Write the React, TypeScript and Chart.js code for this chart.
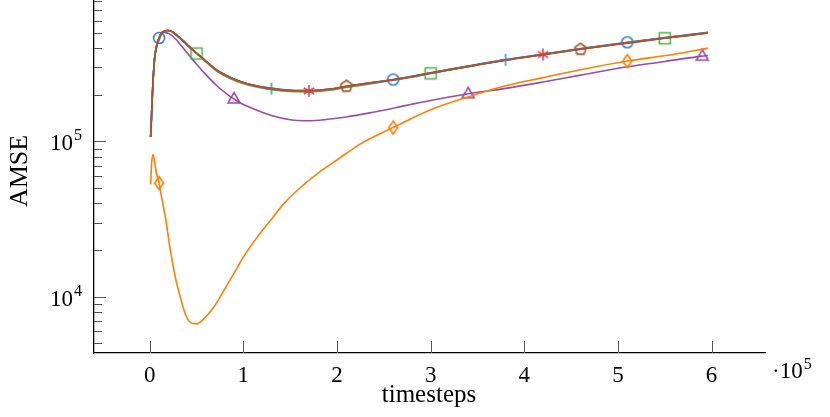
import React, { useEffect, useRef } from "react";
import { Chart, registerables } from "chart.js";

Chart.register(...registerables);

// timesteps (×10^5) shared by the upper group of curves
const TOP_X = [0.01, 0.02, 0.03, 0.05, 0.08, 0.1, 0.12, 0.15, 0.19, 0.24, 0.29, 0.35, 0.42, 0.5, 0.6, 0.72, 0.85, 0.9, 0.97, 1.1, 1.3, 1.5, 1.7, 1.9, 2.1, 2.35, 2.6, 2.8, 3.0, 3.4, 3.8, 4.2, 4.6, 5.1, 5.5, 5.9, 5.96];

const BLUE_Y = [1.07e5, 1.5e5, 2.1e5, 3.34e5, 4.3e5, 4.65e5, 4.95e5, 5.12e5, 5.2e5, 5.1e5, 4.84e5, 4.5e5, 4.1e5, 3.72e5, 3.3e5, 2.87e5, 2.6e5, 2.52e5, 2.43e5, 2.31e5, 2.2e5, 2.14e5, 2.13e5, 2.17e5, 2.27e5, 2.39e5, 2.51e5, 2.63e5, 2.77e5, 3.06e5, 3.37e5, 3.66e5, 3.97e5, 4.36e5, 4.68e5, 5.0e5, 5.06e5];
const GREEN_Y = [1.07e5, 1.5e5, 2.1e5, 3.34e5, 4.28e5, 4.63e5, 4.93e5, 5.1e5, 5.18e5, 5.07e5, 4.8e5, 4.46e5, 4.06e5, 3.69e5, 3.26e5, 2.83e5, 2.56e5, 2.48e5, 2.39e5, 2.27e5, 2.16e5, 2.1e5, 2.09e5, 2.13e5, 2.23e5, 2.35e5, 2.48e5, 2.6e5, 2.75e5, 3.04e5, 3.34e5, 3.63e5, 3.93e5, 4.31e5, 4.63e5, 4.96e5, 5.02e5];
const BROWN_Y = [1.07e5, 1.5e5, 2.1e5, 3.34e5, 4.3e5, 4.65e5, 4.96e5, 5.13e5, 5.21e5, 5.11e5, 4.85e5, 4.5e5, 4.1e5, 3.72e5, 3.3e5, 2.88e5, 2.61e5, 2.53e5, 2.44e5, 2.31e5, 2.2e5, 2.14e5, 2.13e5, 2.17e5, 2.27e5, 2.39e5, 2.5e5, 2.62e5, 2.76e5, 3.04e5, 3.34e5, 3.63e5, 3.93e5, 4.31e5, 4.63e5, 4.96e5, 5.02e5];
const CYAN_Y = [1.07e5, 1.5e5, 2.1e5, 3.34e5, 4.29e5, 4.64e5, 4.95e5, 5.12e5, 5.2e5, 5.1e5, 4.84e5, 4.5e5, 4.1e5, 3.71e5, 3.29e5, 2.87e5, 2.6e5, 2.52e5, 2.43e5, 2.3e5, 2.19e5, 2.13e5, 2.12e5, 2.16e5, 2.26e5, 2.38e5, 2.5e5, 2.62e5, 2.77e5, 3.06e5, 3.36e5, 3.65e5, 3.96e5, 4.35e5, 4.67e5, 4.99e5, 5.05e5];
const RED_Y = [1.07e5, 1.5e5, 2.1e5, 3.34e5, 4.29e5, 4.64e5, 4.95e5, 5.12e5, 5.2e5, 5.1e5, 4.84e5, 4.5e5, 4.1e5, 3.71e5, 3.29e5, 2.87e5, 2.6e5, 2.52e5, 2.43e5, 2.3e5, 2.19e5, 2.13e5, 2.12e5, 2.16e5, 2.26e5, 2.38e5, 2.5e5, 2.62e5, 2.76e5, 3.05e5, 3.35e5, 3.64e5, 3.95e5, 4.33e5, 4.65e5, 4.98e5, 5.04e5];
const PURPLE_Y = [1.07e5, 1.5e5, 2.1e5, 3.3e5, 4.2e5, 4.5e5, 4.85e5, 5.05e5, 5.0e5, 4.8e5, 4.49e5, 4.05e5, 3.6e5, 3.15e5, 2.7e5, 2.28e5, 1.97e5, 1.88e5, 1.77e5, 1.63e5, 1.47e5, 1.38e5, 1.36e5, 1.39e5, 1.44e5, 1.53e5, 1.64e5, 1.74e5, 1.84e5, 2.03e5, 2.2e5, 2.42e5, 2.68e5, 3.03e5, 3.28e5, 3.55e5, 3.58e5];

// orange curve has its own timesteps
const ORANGE_X = [0.01, 0.02, 0.036, 0.05, 0.07, 0.1, 0.114, 0.167, 0.221, 0.274, 0.327, 0.38, 0.434, 0.5, 0.576, 0.683, 0.79, 0.896, 1.0, 1.146, 1.288, 1.43, 1.573, 1.787, 2.0, 2.25, 2.6, 3.0, 3.39, 3.78, 4.2, 4.6, 5.1, 5.6, 5.96];
const ORANGE_Y = [5.3e4, 7.2e4, 8.25e4, 7.6e4, 6.3e4, 5.4e4, 4.83e4, 3.25e4, 1.98e4, 1.33e4, 9.9e3, 7.72e3, 6.82e3, 6.67e3, 7.18e3, 8.53e3, 1.09e4, 1.4e4, 1.8e4, 2.41e4, 3.09e4, 3.96e4, 4.83e4, 6.19e4, 7.6e4, 9.66e4, 1.23e5, 1.6e5, 1.93e5, 2.27e5, 2.58e5, 2.9e5, 3.3e5, 3.65e5, 4.0e5];

// marker positions (timesteps ×10^5)
const CIRCLE_MARKS = [0.1, 2.6, 5.1];
const SQUARE_MARKS = [0.5, 3.0, 5.5];
const TRIANGLE_MARKS = [0.9, 3.4, 5.9];
const DIAMOND_MARKS = [0.1, 2.6, 5.1];
const PENTAGON_MARKS = [2.1, 4.6];
const CROSS_MARKS = [1.3, 3.8];
const STAR_MARKS = [1.7, 4.2];

const X_TICKS = [0, 1, 2, 3, 4, 5, 6];
const Y_MAJOR = [1e4, 1e5];

const FONT = '"Liberation Serif", "DejaVu Serif", serif';

function makeMarker(kind: string, color: string): HTMLCanvasElement {
  const c = document.createElement("canvas");
  c.width = 18;
  c.height = 18;
  const g = c.getContext("2d")!;
  g.translate(9, 9);
  g.strokeStyle = color;
  g.lineWidth = 1.6;
  g.beginPath();
  if (kind === "circle") {
    g.arc(0, 0, 5.5, 0, Math.PI * 2);
  } else if (kind === "square") {
    g.rect(-5.5, -5.5, 11, 11);
  } else if (kind === "triangle") {
    g.moveTo(0, -6.5);
    g.lineTo(6, 4);
    g.lineTo(-6, 4);
    g.closePath();
  } else if (kind === "diamond") {
    g.moveTo(0, -6.5);
    g.lineTo(4.5, 0);
    g.lineTo(0, 6.5);
    g.lineTo(-4.5, 0);
    g.closePath();
  } else if (kind === "pentagon") {
    for (let i = 0; i < 5; i++) {
      const a = -Math.PI / 2 + (i * 2 * Math.PI) / 5;
      const px = 6 * Math.cos(a);
      const py = 6 * Math.sin(a);
      if (i === 0) g.moveTo(px, py);
      else g.lineTo(px, py);
    }
    g.closePath();
  } else if (kind === "cross") {
    g.moveTo(-6, 0);
    g.lineTo(6, 0);
    g.moveTo(0, -6);
    g.lineTo(0, 6);
  } else if (kind === "star") {
    for (let i = 0; i < 3; i++) {
      const a = -Math.PI / 2 + (i * Math.PI) / 3;
      g.moveTo(6 * Math.cos(a), 6 * Math.sin(a));
      g.lineTo(-6 * Math.cos(a), -6 * Math.sin(a));
    }
  }
  g.stroke();
  return c;
}

function zip(xs: number[], ys: number[]) {
  return xs.map((x, i) => ({ x, y: ys[i] }));
}

function series(xs: number[], ys: number[], color: string, kind: string, marks: number[], order: number) {
  const img = makeMarker(kind, color);
  return {
    data: zip(xs, ys),
    borderColor: color,
    borderWidth: 1.6,
    backgroundColor: color,
    cubicInterpolationMode: "monotone" as const,
    pointStyle: img,
    pointRadius: (ctx: any) => (ctx.raw && marks.some((m) => Math.abs(m - ctx.raw.x) < 1e-9) ? 6 : 0),
    pointHoverRadius: 0,
    order,
  };
}

const axesPlugin = {
  id: "pgfAxes",
  afterDraw(chart: any) {
    const { ctx, chartArea } = chart;
    const xs = chart.scales.x;
    const ys = chart.scales.y;
    ctx.save();
    // ticks
    ctx.strokeStyle = "#555";
    ctx.lineWidth = 1;
    ctx.beginPath();
    for (const t of X_TICKS) {
      const px = Math.round(xs.getPixelForValue(t)) + 0.5;
      ctx.moveTo(px, chartArea.bottom);
      ctx.lineTo(px, chartArea.bottom - 12);
    }
    for (let e = 3; e <= 6; e++) {
      for (let m = 1; m <= 9; m++) {
        const v = m * Math.pow(10, e);
        if (v < ys.min || v > ys.max) continue;
        const py = Math.round(ys.getPixelForValue(v)) + 0.5;
        ctx.moveTo(chartArea.left, py);
        ctx.lineTo(chartArea.left + (m === 1 ? 12 : 8), py);
      }
    }
    ctx.stroke();

    ctx.fillStyle = "#000";
    // x tick labels
    ctx.font = `23px ${FONT}`;
    ctx.textAlign = "center";
    ctx.textBaseline = "alphabetic";
    for (const t of X_TICKS) {
      ctx.fillText(String(t), xs.getPixelForValue(t), 382);
    }
    // ·10^5 multiplier
    ctx.textAlign = "left";
    ctx.fillText("\u00b710", 772, 378);
    const mw = ctx.measureText("\u00b710").width;
    ctx.font = `16px ${FONT}`;
    ctx.fillText("5", 772 + mw + 1, 369);

    // y tick labels
    for (const v of Y_MAJOR) {
      const py = ys.getPixelForValue(v);
      const exp = Math.round(Math.log10(v));
      ctx.font = `16px ${FONT}`;
      ctx.textAlign = "right";
      ctx.fillText(String(exp), 82, py - 1);
      const w = ctx.measureText(String(exp)).width;
      ctx.font = `23px ${FONT}`;
      ctx.fillText("10", 82 - w - 1, py + 9);
    }

    // axis titles
    ctx.font = `25px ${FONT}`;
    ctx.textAlign = "center";
    ctx.fillText("timesteps", 429, 402);
    ctx.save();
    ctx.translate(27, 171);
    ctx.rotate(-Math.PI / 2);
    ctx.font = `26px ${FONT}`;
    ctx.fillText("AMSE", 0, 0);
    ctx.restore();
    ctx.restore();
  },
};

export default function App() {
  const ref = useRef<HTMLCanvasElement>(null);
  useEffect(() => {
    const chart = new Chart(ref.current!, {
      type: "line",
      data: {
        datasets: [
          series(TOP_X, BLUE_Y, "#377eb8", "circle", CIRCLE_MARKS, 3),
          series(ORANGE_X, ORANGE_Y, "#ff7f00", "diamond", DIAMOND_MARKS, 6),
          series(TOP_X, GREEN_Y, "#4daf4a", "square", SQUARE_MARKS, 5),
          series(TOP_X, RED_Y, "#e4405a", "star", STAR_MARKS, 2),
          series(TOP_X, PURPLE_Y, "#984ea3", "triangle", TRIANGLE_MARKS, 7),
          series(TOP_X, BROWN_Y, "#a65628", "pentagon", PENTAGON_MARKS, 1),
          series(TOP_X, CYAN_Y, "#2a9fd8", "cross", CROSS_MARKS, 4),
        ] as any,
      },
      options: {
        animation: false,
        responsive: false,
        events: [],
        layout: { padding: { left: 94, right: 65, top: 0, bottom: 64 } },
        plugins: { legend: { display: false }, tooltip: { enabled: false } },
        scales: {
          x: {
            type: "linear",
            min: -0.595,
            max: 6.57,
            ticks: { display: false },
            grid: { display: false },
            border: { display: true, color: "#000", width: 1.3 },
            afterFit: (s: any) => {
              s.height = 0;
            },
          },
          y: {
            type: "logarithmic",
            min: 4330,
            max: 8.17e5,
            ticks: { display: false },
            grid: { display: false },
            border: { display: true, color: "#000", width: 1.3 },
            afterFit: (s: any) => {
              s.width = 0;
            },
          },
        },
      },
      plugins: [axesPlugin],
    });
    return () => chart.destroy();
  }, []);
  return (
    <div style={{ position: "absolute", left: 0, top: 0, width: 830, height: 417, background: "#fff" }}>
      <canvas ref={ref} width={830} height={417} style={{ display: "block" }} />
    </div>
  );
}
